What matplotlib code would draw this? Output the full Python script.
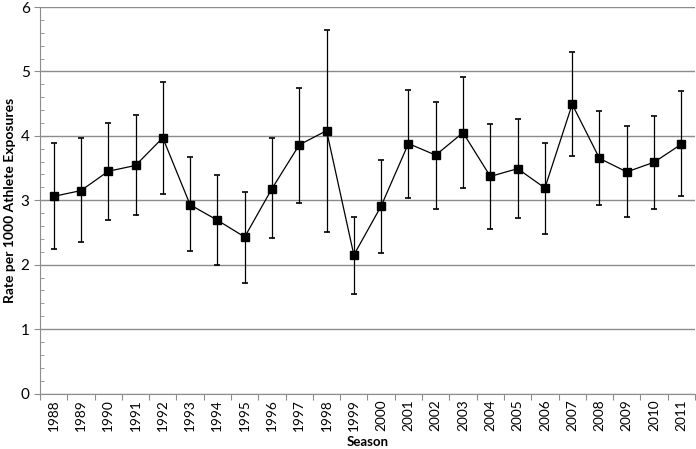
import matplotlib
matplotlib.use("Agg")
import matplotlib.pyplot as plt
import numpy as np

seasons = [str(y) for y in range(1988, 2012)]
rate = [3.06, 3.15, 3.45, 3.54, 3.97, 2.93, 2.69, 2.43, 3.18, 3.86, 4.08, 2.15,
        2.91, 3.88, 3.70, 4.05, 3.37, 3.49, 3.19, 4.49, 3.65, 3.44, 3.59, 3.87]
upper = [3.89, 3.96, 4.20, 4.33, 4.84, 3.67, 3.39, 3.13, 3.96, 4.75, 5.64, 2.74,
         3.63, 4.71, 4.53, 4.91, 4.18, 4.26, 3.89, 5.30, 4.39, 4.15, 4.31, 4.69]
lower = [2.25, 2.35, 2.69, 2.77, 3.09, 2.21, 1.99, 1.72, 2.42, 2.95, 2.51, 1.54,
         2.18, 3.03, 2.87, 3.19, 2.56, 2.72, 2.47, 3.68, 2.92, 2.74, 2.86, 3.07]

plt.rcParams['font.family'] = ['Lato', 'DejaVu Sans']

x = np.arange(len(seasons))
rate = np.array(rate)
yerr = [rate - np.array(lower), np.array(upper) - rate]

fig = plt.figure(figsize=(6.96, 4.49), dpi=100)
ax = fig.add_axes([40/696, 1-393.5/449, 655/696, 386.5/449])

ax.errorbar(x, rate, yerr=yerr, fmt="none", ecolor="black", elinewidth=0.9,
            capsize=2.5, capthick=1.2, zorder=3)
ax.plot(x, rate, color="black", linewidth=0.9, marker="s", markersize=5.5, zorder=4)

ax.set_xlim(-0.5, len(seasons) - 0.5)
ax.set_ylim(0, 6)
ax.set_yticks(range(0, 7))
ax.set_yticks(np.arange(0, 6.01, 0.2), minor=True)
ax.yaxis.grid(True, which="major", color="#8c8c8c", linewidth=1)
ax.set_axisbelow(True)

ax.set_xticks(np.arange(-0.5, len(seasons), 1))
ax.set_xticklabels([])
ax.set_xticks(x, minor=True)
ax.set_xticklabels(seasons, minor=True, rotation=90, fontsize=9.8)
ax.tick_params(axis="x", which="minor", length=0, pad=4)
ax.tick_params(axis="x", which="major", length=4, color="#8c8c8c", direction="out")
ax.tick_params(axis="y", which="major", length=4, color="#8c8c8c", labelsize=11)
ax.tick_params(axis="y", which="minor", length=3, color="#8c8c8c", direction="in")

for s in ["top", "right"]:
    ax.spines[s].set_visible(False)
for s in ["left", "bottom"]:
    ax.spines[s].set_color("#8c8c8c")

ax.set_xlabel("Season", fontweight="bold", fontsize=9.5)
ax.xaxis.set_label_coords(0.5, -0.11)
ax.set_ylabel("Rate per 1000 Athlete Exposures", fontweight="bold", fontsize=10)
ax.yaxis.set_label_coords(-0.036, 0.5)

fig.savefig("out.png", dpi=100)
